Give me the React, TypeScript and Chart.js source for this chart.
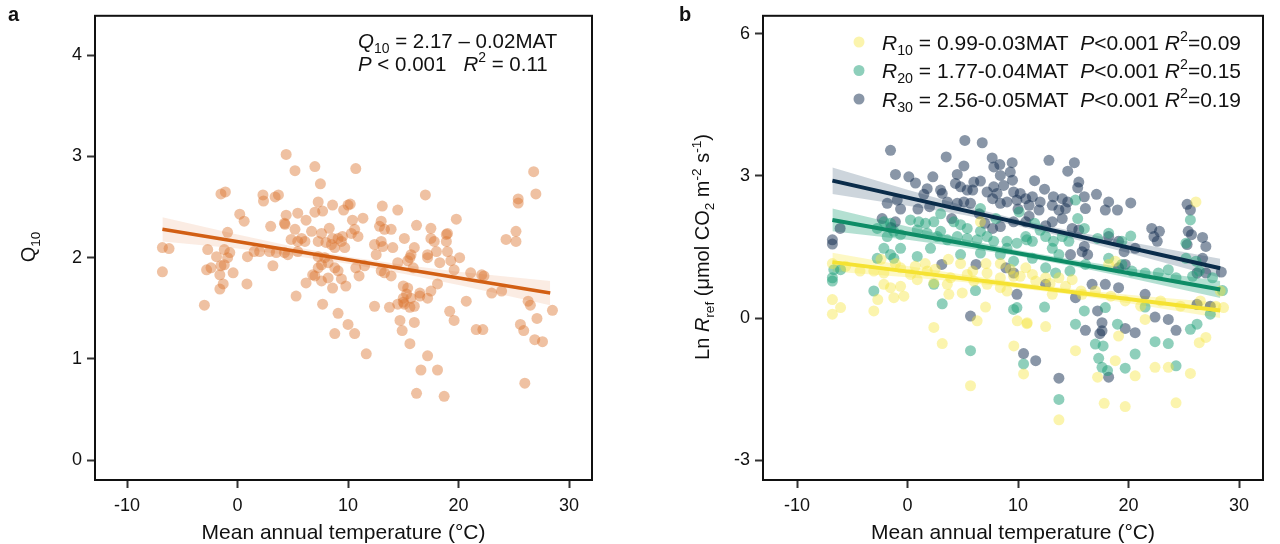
import React, { useEffect, useRef } from "react";
import { Chart, registerables } from "chart.js";

Chart.register(...registerables);

const FONT = '"Liberation Sans", Arial, Helvetica, sans-serif';

// shared axis ticks
const xTicks = [-10, 0, 10, 20, 30];
const yTicksA = [0, 1, 2, 3, 4];
const yTicksB = [-3, 0, 3, 6];

// panel a: Q10 vs MAT
const q10Points: [number, number][] = [
  [4.4, 3.02], [-1.5, 2.63], [-1.1, 2.65], [2.3, 2.62], [2.35, 2.56], [3.4, 2.6], [3.7, 2.62],
  [0.2, 2.43], [0.6, 2.36], [4.4, 2.42], [3.0, 2.31], [4.3, 2.33], [-0.9, 2.25], [-6.8, 2.1],
  [-6.2, 2.09], [-6.8, 1.86], [-2.7, 2.08], [-1.9, 2.01], [-1.2, 2.08], [-0.7, 2.05], [-0.9, 2.0],
  [-2.8, 1.88], [-2.4, 1.9], [-1.5, 1.92], [-1.2, 1.93], [-1.6, 1.83], [-0.4, 1.85], [-1.3, 1.74],
  [-1.6, 1.69], [0.85, 1.74], [-3.0, 1.53], [0.9, 2.01], [1.5, 2.06], [2.0, 2.06], [2.9, 2.06],
  [3.5, 2.05], [4.25, 2.05], [3.2, 1.92],
  [5.2, 2.86], [7.0, 2.9], [10.7, 2.88], [7.5, 2.73], [17.0, 2.62], [7.3, 2.55], [8.6, 2.52],
  [10.0, 2.52], [10.2, 2.53], [9.6, 2.47], [7.0, 2.45], [7.7, 2.46], [13.1, 2.51], [14.5, 2.47],
  [19.8, 2.38], [5.45, 2.44], [6.2, 2.37], [4.25, 2.34], [10.4, 2.37], [11.35, 2.39], [10.6, 2.28],
  [13.0, 2.36], [12.85, 2.31], [13.9, 2.28], [13.3, 2.28], [16.2, 2.32], [17.5, 2.29], [18.9, 2.23],
  [19.0, 2.24], [5.2, 2.28], [5.8, 2.19], [6.7, 2.26], [7.6, 2.24], [8.3, 2.29], [8.6, 2.19],
  [9.1, 2.19], [9.5, 2.21], [10.3, 2.24], [10.9, 2.21], [4.85, 2.18], [5.45, 2.16], [6.1, 2.16],
  [7.3, 2.16], [8.0, 2.15], [8.5, 2.13], [9.7, 2.1], [9.4, 2.16], [8.8, 2.1], [12.4, 2.13],
  [13.15, 2.11], [14.05, 2.1], [12.55, 2.03], [13.0, 2.16], [15.1, 2.19], [16.0, 2.1], [15.7, 2.03],
  [15.6, 2.0], [17.5, 2.19], [17.8, 2.16], [18.9, 2.16], [18.0, 2.06], [17.2, 2.03], [19.0, 2.06],
  [20.1, 2.0], [4.55, 2.03], [5.45, 2.06], [7.3, 2.01], [7.9, 2.0], [7.6, 1.93], [8.2, 1.95],
  [7.3, 1.9], [8.8, 1.9], [9.1, 1.87], [6.8, 1.83], [6.2, 1.75], [7.0, 1.82], [8.2, 1.8], [9.4, 1.79],
  [9.8, 1.72], [8.6, 1.7], [7.6, 1.77], [11.0, 1.82], [10.7, 1.9], [11.5, 1.92], [13.0, 1.87],
  [13.3, 1.85], [13.9, 1.82], [14.5, 1.95], [15.4, 1.97], [15.9, 1.9], [17.2, 2.0], [18.3, 1.95],
  [19.3, 1.97], [19.6, 1.88], [21.1, 1.85], [22.1, 1.83], [5.3, 1.62], [7.7, 1.54], [12.4, 1.52],
  [13.75, 1.51], [14.5, 1.54], [15.0, 1.56], [15.0, 1.72], [15.4, 1.7], [15.3, 1.64], [15.7, 1.6],
  [15.0, 1.6], [15.1, 1.54], [15.6, 1.51], [16.0, 1.52], [16.5, 1.62], [17.5, 1.67], [18.1, 1.74],
  [17.2, 1.6], [16.5, 1.65], [20.7, 1.57], [19.2, 1.47], [19.6, 1.38], [9.1, 1.45], [14.7, 1.38],
  [14.9, 1.28], [16.0, 1.36], [10.0, 1.34], [10.6, 1.25], [8.8, 1.25], [21.6, 1.29], [22.2, 1.29],
  [15.6, 1.15], [11.65, 1.05], [17.2, 1.03], [16.6, 0.89], [18.1, 0.89], [16.2, 0.66], [18.7, 0.63],
  [26.8, 2.85], [27.0, 2.63], [25.4, 2.58], [25.4, 2.54], [25.2, 2.26], [25.2, 2.16], [24.3, 2.18],
  [22.3, 1.82], [23.0, 1.65], [23.9, 1.67], [26.3, 1.57], [26.5, 1.53], [28.5, 1.48], [25.6, 1.34],
  [25.9, 1.28], [27.1, 1.4], [26.9, 1.19], [27.6, 1.17], [26.0, 0.76],
];
const q10Fit: [number, number][] = [[-6.8, 2.28], [28.3, 1.65]];
const bandX = [-6.8, 0, 5, 10, 15, 20, 28.3];
const q10Upper = [2.4, 2.23, 2.11, 2.01, 1.93, 1.86, 1.77];
const q10Lower = [2.16, 2.09, 2.02, 1.94, 1.84, 1.73, 1.53];

// panel b: Ln Rref at 10, 20, 30 degrees vs MAT
const r30Points: [number, number][] = [
  [-1.54, 3.54], [5.19, 3.75], [6.76, 3.7], [3.5, 3.4], [-1.09, 3.03], [0.12, 2.98], [0.72, 2.85],
  [2.29, 2.98], [7.66, 3.38], [8.35, 3.24], [9.47, 3.28], [7.81, 3.19], [5.1, 3.21], [4.5, 3.03],
  [4.34, 2.84], [4.8, 2.77], [5.4, 2.7], [1.78, 2.73], [2.99, 2.7], [3.14, 2.63], [1.48, 2.61],
  [8.4, 3.01], [9.3, 3.08], [9.5, 2.91], [8.7, 2.8], [7.8, 2.77], [7.2, 2.66], [8.1, 2.63], [7.7, 2.52],
  [9.6, 2.66], [10.2, 2.63], [9.9, 2.49], [9.0, 2.45], [8.4, 2.42], [10.7, 2.52], [6.0, 2.87],
  [6.6, 2.89], [5.9, 2.7], [5.1, 2.45], [5.7, 2.42], [-1.84, 2.42], [-0.63, 2.3], [-0.93, 2.49],
  [0.94, 2.3], [3.6, 2.45], [4.5, 2.42], [4.0, 2.1], [-2.3, 2.1], [-1.1, 2.03], [-1.5, 1.91],
  [-6.8, 1.65], [-6.8, 1.56], [-6.1, 1.89], [3.1, 1.13], [6.2, 1.13], [8.9, 1.06], [9.6, 0.95],
  [8.4, 1.93], [9.6, 2.03], [7.7, 1.89], [11.5, 2.9], [12.0, 2.45], [10.0, 2.3], [11.0, 2.15],
  [12.5, 1.95], [6.5, 2.2], [2.0, 2.35], [7.0, 2.0],
  [12.8, 3.33], [15.1, 3.28], [14.5, 3.1], [15.5, 2.87], [15.4, 2.75], [17.1, 2.61], [16.0, 2.56],
  [12.4, 2.72], [11.3, 2.56], [13.2, 2.56], [14.0, 2.52], [14.5, 2.45], [13.1, 2.38], [13.7, 2.28],
  [14.3, 2.31], [16.1, 2.31], [18.2, 2.45], [19.0, 2.28], [17.9, 2.28], [20.2, 2.43], [11.0, 2.38],
  [11.9, 2.28], [10.7, 2.03], [13.1, 2.03], [14.0, 2.1], [14.9, 1.89], [15.5, 1.86], [25.3, 2.4],
  [25.6, 2.28], [22.1, 1.89], [22.8, 1.83], [22.3, 1.72], [22.6, 1.62], [25.4, 1.83], [25.7, 1.76],
  [25.3, 1.55], [26.7, 1.7], [27.0, 1.51], [26.7, 1.26], [26.2, 0.95], [27.0, 0.95], [28.4, 0.97],
  [18.2, 1.72], [19.1, 1.62], [19.6, 1.4], [20.6, 1.47], [16.0, 1.51], [15.8, 1.4], [16.3, 1.34],
  [19.1, 1.06], [19.7, 1.13], [14.75, 1.34],
  [5.7, 0.04], [9.9, 0.5], [10.5, -0.75], [12.5, 0.71], [16.7, 0.71], [17.9, 0.71], [19.1, 0.64],
  [15.2, 0.43], [21.5, 0.5], [17.2, 0.15], [17.6, -0.1], [16.1, -0.26], [19.7, -0.22], [20.6, -0.31],
  [22.4, 0.02], [23.6, -0.03], [24.3, -0.26], [17.4, -0.33], [17.6, -0.27], [11.6, -0.9],
  [13.7, -1.27], [18.2, -1.25], [26.2, 0.29], [27.4, 0.25],
];
const r20Points: [number, number][] = [
  [-2.74, 1.89], [-2.14, 2.03], [-1.54, 2.0], [-1.24, 1.83], [-0.63, 1.76], [-1.84, 1.72], [0.27, 2.07],
  [1.02, 2.03], [1.63, 2.0], [2.38, 2.03], [2.99, 1.83], [1.78, 1.79], [0.88, 1.86], [4.19, 2.03],
  [4.8, 1.97], [5.4, 1.89], [6.6, 1.83], [7.2, 1.72], [7.8, 1.62], [9.0, 1.62], [9.9, 1.58], [10.8, 1.65],
  [6.3, 1.65], [5.4, 1.68], [4.5, 1.72], [3.6, 1.65], [2.7, 1.72], [2.08, 1.47], [-0.63, 1.47],
  [-2.14, 1.47], [-1.54, 1.34], [-1.24, 1.26], [0.88, 1.3], [-2.74, 1.26], [-6.67, 1.02], [-6.06, 1.02],
  [-6.8, 0.85], [4.8, 1.34], [6.6, 1.37], [8.4, 1.34], [9.6, 1.2], [9.0, 1.47], [10.1, 2.24], [6.6, 2.31],
  [3.0, 2.2], [8.0, 2.1], [11.5, 2.0], [12.0, 1.85],
  [15.2, 2.49], [15.4, 2.1], [16.0, 1.89], [10.7, 1.72], [11.3, 1.62], [12.5, 1.72], [13.2, 1.62],
  [14.0, 1.72], [13.1, 1.47], [13.7, 1.34], [14.6, 1.62], [17.2, 1.68], [18.2, 1.79], [19.4, 1.62],
  [20.2, 1.73], [25.6, 2.07], [25.2, 1.58], [25.2, 1.26], [26.1, 1.2], [27.6, 0.85], [11.3, 1.26],
  [12.5, 1.06], [13.4, 0.95], [14.7, 0.99], [16.1, 1.13], [18.2, 1.26], [19.4, 1.13], [20.3, 0.99],
  [21.5, 0.95], [22.7, 0.95], [23.6, 1.02], [24.3, 0.85], [25.8, 0.88], [26.4, 0.99],
  [-6.8, 0.78], [-3.05, 0.57], [2.38, 0.71], [3.14, 0.3], [6.15, 0.58], [5.7, -0.69], [9.6, 0.18],
  [9.9, 0.22], [10.5, -0.97], [12.4, 0.23], [15.2, -0.13], [16.0, 0.15], [17.9, 0.22], [19.0, -0.13],
  [21.5, 0.23], [17.0, -0.55], [17.7, -0.59], [17.3, -0.85], [20.6, -0.76], [19.7, -1.06], [22.4, -0.5],
  [23.6, -0.54], [24.3, -1.01], [25.6, -0.24], [26.2, -0.13], [18.1, -1.11], [17.6, -1.04],
  [13.7, -1.72], [28.5, 0.58], [27.4, 0.08],
];
const r10Points: [number, number][] = [
  [-3.05, 0.99], [-2.14, 0.95], [-0.63, 1.06], [0.27, 0.92], [1.78, 0.99], [3.9, 0.85], [5.4, 0.92],
  [7.2, 0.95], [8.4, 0.85], [9.6, 0.88], [6.0, 0.78], [2.38, 0.74], [0.88, 0.81], [6.6, 2.03],
  [26.1, 2.45], [10.7, 1.06], [11.3, 0.92], [12.5, 0.85], [13.7, 0.85], [14.9, 0.81], [18.2, 1.13],
  [18.8, 1.2], [-6.8, 0.39], [-6.06, 0.22], [-6.8, 0.08], [-3.05, 0.15], [-2.69, 0.39], [-1.24, 0.43],
  [-0.33, 0.46], [-1.54, 0.64], [3.74, 0.5], [4.95, 0.53], [2.38, -0.2], [3.14, -0.54], [7.06, 0.23],
  [6.3, -0.06], [9.93, -0.06], [10.83, -0.1], [9.62, -0.59], [10.5, -1.18], [5.7, -1.43], [3.6, 0.71],
  [-2.14, 0.71], [-0.63, 0.67], [8.4, 0.64], [7.2, 0.71], [9.0, 0.57], [10.8, -0.12], [12.5, -0.18],
  [15.2, -0.69], [18.8, -0.9], [17.2, -1.25], [20.6, -1.22], [22.4, -1.04], [23.6, -1.04], [25.6, -1.17],
  [26.4, -0.52], [27.0, -0.41], [17.8, -1.8], [19.7, -1.87], [24.3, -1.79], [13.7, -2.15], [21.5, -0.03],
  [19.1, -0.38], [13.1, 0.5], [15.8, 0.5], [0.7, 1.09], [1.6, 1.15], [2.5, 1.03], [3.7, 1.24], [4.8, 1.15],
  [5.9, 0.99], [7.1, 1.15], [8.4, 1.15], [9.3, 1.03], [10.2, 0.88], [11.6, 0.78], [12.9, 0.73],
  [14.3, 0.67], [15.7, 0.57], [17.0, 0.57], [18.4, 0.46], [19.7, 0.36], [21.1, 0.25], [22.9, 0.36],
  [24.7, 0.25], [26.5, 0.36], [27.9, 0.25], [28.3, 0.57], [28.6, 0.22], [-6.8, 1.15], [-5.6, 1.09],
  [-4.3, 0.99], [-2.4, 1.24], [-1.1, 1.15],
];
const r10Fit: [number, number][] = [[-6.8, 1.18], [28.3, 0.16]];
const r20Fit: [number, number][] = [[-6.8, 2.07], [28.3, 0.6]];
const r30Fit: [number, number][] = [[-6.8, 2.9], [28.3, 1.05]];
const r10Upper = [1.38, 1.1, 0.92, 0.75, 0.61, 0.49, 0.32];
const r10Lower = [0.98, 0.86, 0.76, 0.63, 0.49, 0.31, 0.0];
const r20Upper = [2.31, 1.93, 1.67, 1.43, 1.23, 1.05, 0.78];
const r20Lower = [1.83, 1.65, 1.49, 1.31, 1.09, 0.85, 0.42];
const r30Upper = [3.18, 2.71, 2.38, 2.08, 1.83, 1.61, 1.25];
const r30Lower = [2.62, 2.37, 2.18, 1.94, 1.67, 1.37, 0.85];

const seriesB = [
  { pts: r10Points, fit: r10Fit, up: r10Upper, lo: r10Lower, dot: "rgba(245,228,60,0.42)", line: "rgb(245,226,50)", band: "rgba(248,236,90,0.35)", label: "10", eq: " = 0.99-0.03MAT  ", r2: "=0.09" },
  { pts: r20Points, fit: r20Fit, up: r20Upper, lo: r20Lower, dot: "rgba(30,160,120,0.5)", line: "rgb(14,140,102)", band: "rgba(40,165,125,0.35)", label: "20", eq: " = 1.77-0.04MAT  ", r2: "=0.15" },
  { pts: r30Points, fit: r30Fit, up: r30Upper, lo: r30Lower, dot: "rgba(20,45,80,0.5)", line: "rgb(10,44,74)", band: "rgba(90,115,140,0.3)", label: "30", eq: " = 2.56-0.05MAT  ", r2: "=0.19" },
];

type Seg = { t: string; it?: boolean; sub?: boolean; sup?: boolean };

const segFont = (s: Seg, size: number) =>
  `${s.it ? "italic " : ""}${s.sub || s.sup ? size * 0.68 : size}px ${FONT}`;

function richWidth(ctx: CanvasRenderingContext2D, segs: Seg[], size: number) {
  let w = 0;
  segs.forEach((s) => {
    ctx.font = segFont(s, size);
    w += ctx.measureText(s.t).width;
  });
  return w;
}

function drawRich(ctx: CanvasRenderingContext2D, segs: Seg[], x: number, y: number, size: number) {
  let cx = x;
  ctx.textBaseline = "alphabetic";
  ctx.textAlign = "left";
  segs.forEach((s) => {
    ctx.font = segFont(s, size);
    const dy = s.sub ? size * 0.26 : s.sup ? -size * 0.42 : 0;
    ctx.fillText(s.t, cx, y + dy);
    cx += ctx.measureText(s.t).width;
  });
}

const toXY = (p: [number, number][]) => p.map(([x, y]) => ({ x, y }));
const bandXY = (vals: number[]) => bandX.map((x, i) => ({ x, y: vals[i] }));

const axisStyle = (min: number, max: number, ticks: number[], pad: number, fit: (s: any) => void) => ({
  type: "linear" as const,
  min,
  max,
  afterBuildTicks: (s: any) => {
    s.ticks = ticks.map((v) => ({ value: v }));
  },
  afterFit: fit,
  border: { display: false },
  grid: { drawOnChartArea: false, drawTicks: true, tickLength: 8, tickWidth: 2, tickColor: "#333" },
  ticks: { color: "#111", font: { family: FONT, size: 18 }, padding: pad, maxRotation: 0, callback: (v: any) => String(v) },
});

const framePlugin = (draw: (ctx: CanvasRenderingContext2D) => void) => ({
  id: "frame",
  afterDraw(chart: any) {
    const { ctx, chartArea: a } = chart;
    ctx.save();
    ctx.strokeStyle = "#111";
    ctx.lineWidth = 2;
    ctx.strokeRect(a.left, a.top, a.right - a.left, a.bottom - a.top);
    ctx.fillStyle = "#111";
    draw(ctx);
    ctx.restore();
  },
});

function drawRotated(ctx: CanvasRenderingContext2D, segs: Seg[], cx: number, cy: number, size: number) {
  ctx.save();
  ctx.translate(cx, cy);
  ctx.rotate(-Math.PI / 2);
  const w = richWidth(ctx, segs, size);
  drawRich(ctx, segs, -w / 2, 0, size);
  ctx.restore();
}

function drawCentered(ctx: CanvasRenderingContext2D, segs: Seg[], cx: number, y: number, size: number) {
  const w = richWidth(ctx, segs, size);
  drawRich(ctx, segs, cx - w / 2, y, size);
}

const PanelA = () => {
  const ref = useRef<HTMLCanvasElement>(null);
  useEffect(() => {
    const chart = new Chart(ref.current!, {
      type: "scatter",
      data: {
        datasets: [
          { type: "line", data: bandXY(q10Upper), borderWidth: 0, pointRadius: 0, fill: false, order: 3 } as any,
          { type: "line", data: bandXY(q10Lower), borderWidth: 0, pointRadius: 0, fill: "-1", backgroundColor: "rgba(235,160,115,0.2)", order: 3 } as any,
          { data: toXY(q10Points), pointRadius: 5.5, borderWidth: 0, backgroundColor: "rgba(220,118,48,0.45)", order: 2 },
          { type: "line", data: toXY(q10Fit), borderColor: "rgb(210,95,20)", borderWidth: 3.5, pointRadius: 0, fill: false, order: 1 } as any,
        ],
      },
      options: {
        responsive: false,
        animation: false,
        events: [],
        layout: { padding: { left: 0, top: 13, right: 48, bottom: 0 } },
        plugins: { legend: { display: false }, tooltip: { enabled: false } },
        scales: {
          x: axisStyle(-12.9, 32.08, xTicks, 7, (s: any) => { s.height = 64; }),
          y: axisStyle(-0.197, 4.39, yTicksA, 5, (s: any) => { s.width = 95; }),
        },
      },
      plugins: [
        framePlugin((ctx) => {
          ctx.font = `bold 20px ${FONT}`;
          ctx.textBaseline = "alphabetic";
          ctx.fillText("a", 8, 21);
          drawRich(ctx, [{ t: "Q", it: true }, { t: "10", sub: true }, { t: " = 2.17 – 0.02MAT" }], 358, 48, 20.5);
          drawRich(ctx, [{ t: "P", it: true }, { t: " < 0.001   " }, { t: "R", it: true }, { t: "2", sup: true }, { t: " = 0.11" }], 358, 71, 20.5);
          drawRotated(ctx, [{ t: "Q" }, { t: "10", sub: true }], 35, 247, 20);
          drawCentered(ctx, [{ t: "Mean annual temperature (°C)" }], 343.5, 539, 21);
        }),
      ],
    });
    return () => chart.destroy();
  }, []);
  return <canvas ref={ref} width={640} height={544} style={{ position: "absolute", left: 0, top: 0 }} />;
};

const PanelB = () => {
  const ref = useRef<HTMLCanvasElement>(null);
  useEffect(() => {
    const datasets: any[] = [];
    seriesB.forEach((s) => {
      datasets.push({ type: "line", data: bandXY(s.up), borderWidth: 0, pointRadius: 0, fill: false, order: 3 });
      datasets.push({ type: "line", data: bandXY(s.lo), borderWidth: 0, pointRadius: 0, fill: "-1", backgroundColor: s.band, order: 3 });
    });
    seriesB.forEach((s) => {
      datasets.push({ data: toXY(s.pts), pointRadius: 5.5, borderWidth: 0, backgroundColor: s.dot, order: 2 });
    });
    seriesB.forEach((s) => {
      datasets.push({ type: "line", data: toXY(s.fit), borderColor: s.line, borderWidth: 4, pointRadius: 0, fill: false, order: 1 });
    });
    const chart = new Chart(ref.current!, {
      type: "scatter",
      data: { datasets },
      options: {
        responsive: false,
        animation: false,
        events: [],
        layout: { padding: { left: 0, top: 13, right: 17, bottom: 0 } },
        plugins: { legend: { display: false }, tooltip: { enabled: false } },
        scales: {
          x: axisStyle(-13.08, 32.17, xTicks, 7, (s: any) => { s.height = 64; }),
          y: axisStyle(-3.42, 6.38, yTicksB, 5, (s: any) => { s.width = 123; }),
        },
      },
      plugins: [
        framePlugin((ctx) => {
          ctx.font = `bold 20px ${FONT}`;
          ctx.textBaseline = "alphabetic";
          ctx.fillText("b", 39, 21);
          seriesB.forEach((s, i) => {
            const cy = 42 + i * 28.5;
            ctx.fillStyle = s.dot;
            ctx.beginPath();
            ctx.arc(219, cy, 5.5, 0, Math.PI * 2);
            ctx.fill();
            ctx.fillStyle = "#111";
            drawRich(ctx, [
              { t: "R", it: true }, { t: s.label, sub: true }, { t: s.eq },
              { t: "P", it: true }, { t: "<0.001 " }, { t: "R", it: true }, { t: "2", sup: true }, { t: s.r2 },
            ], 242, cy + 7.5, 21);
          });
          drawRotated(ctx, [
            { t: "Ln " }, { t: "R", it: true }, { t: "ref", sub: true }, { t: " (μmol CO" }, { t: "2", sub: true },
            { t: " m" }, { t: "-2", sup: true }, { t: " s" }, { t: "-1", sup: true }, { t: ")" },
          ], 69, 247, 20);
          drawCentered(ctx, [{ t: "Mean annual temperature (°C)" }], 373, 539, 21);
        }),
      ],
    });
    return () => chart.destroy();
  }, []);
  return <canvas ref={ref} width={640} height={544} style={{ position: "absolute", left: 640, top: 0 }} />;
};

export default function App() {
  return (
    <div style={{ position: "absolute", left: 0, top: 0, width: 1280, height: 544, background: "#fff", overflow: "hidden" }}>
      <PanelA />
      <PanelB />
    </div>
  );
}
